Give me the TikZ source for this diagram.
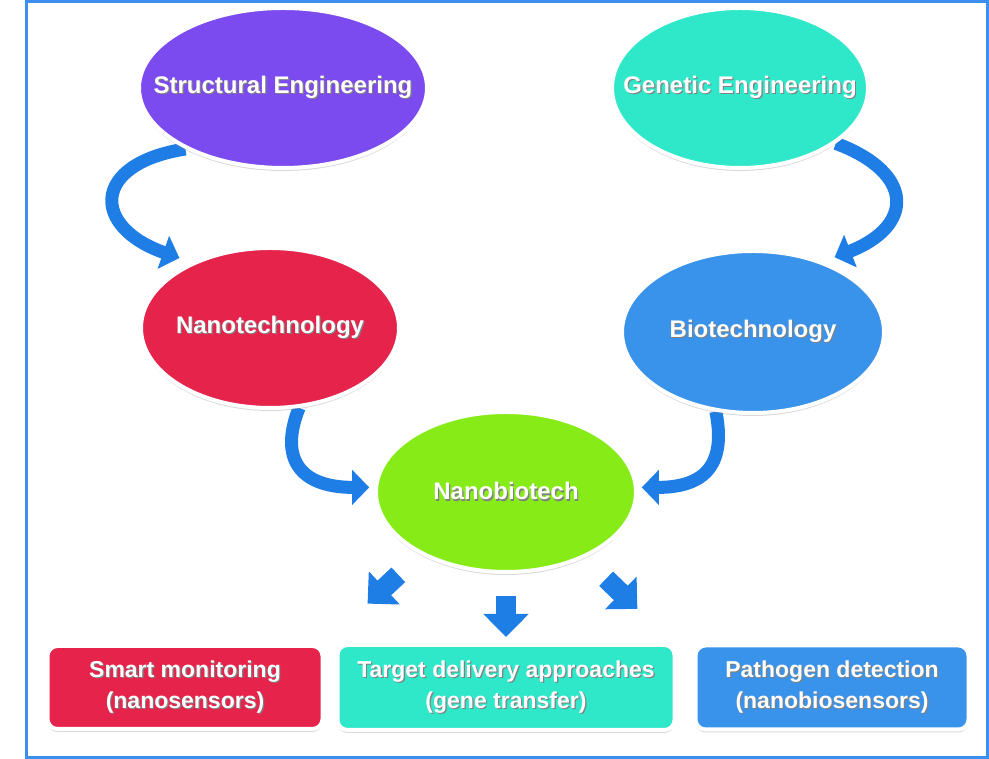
\documentclass[tikz,border=0pt]{standalone}
\usepackage{fontspec}
\setmainfont{Liberation Sans}
\usetikzlibrary{shapes.geometric, arrows.meta, positioning, shadows, backgrounds}

\definecolor{structcol}{HTML}{7B4BEF}
\definecolor{genecol}{HTML}{2EE8C9}
\definecolor{nanocol}{HTML}{E6244B}
\definecolor{biocol}{HTML}{3A93EA}
\definecolor{nbtcol}{HTML}{86EB17}
\definecolor{arrowcol}{HTML}{1E7EE6}
\definecolor{framecol}{HTML}{3D8FEF}

% white text with a dark drop behind it
\newcommand\shd[1]{\makebox[0pt]{\rlap{\raisebox{-1.5pt}{\hspace{1.2pt}\color{black!50}#1}}#1}}

\tikzset{
  blob/.style = {ellipse, draw=white, line width=4pt, text=white, inner sep=0pt,
                 minimum width=258pt, minimum height=160pt,
                 font=\fontsize{24}{29}\selectfont\bfseries,
                 drop shadow={shadow xshift=0pt, shadow yshift=-3pt, opacity=.3}},
  card/.style = {rectangle, rounded corners=10pt, draw=white, line width=4pt, text=white,
                 inner sep=0pt, minimum height=85pt, align=center,
                 font=\fontsize{23}{31}\selectfont\bfseries,
                 drop shadow={shadow xshift=0pt, shadow yshift=-3pt, opacity=.3}},
  ribbon/.style = {draw=arrowcol, line width=13pt, -{Triangle[width=34pt,length=17pt]}},
  block/.style  = {draw=arrowcol, line width=20pt, -{Triangle[width=44pt,length=23pt]}},
}

\begin{document}
\begin{tikzpicture} [x=1pt, y=1pt, on grid]
   \useasboundingbox (0,0) rectangle (989,759);
   \draw[framecol, line width=3pt] (26.5,1.5) rectangle (987.5,757.5);

   \node (struct)[blob, fill=structcol, minimum width=288pt] at (283,671) {\shd{Structural Engineering}};
   \node (gene)[blob, fill=genecol, minimum width=256pt, right = 457pt of struct] {\shd{Genetic Engineering}};
   \node (nano)[blob, fill=nanocol, below left = 240pt and 13pt of struct] {\shd{Nanotechnology}};
   \node (bio)[blob, fill=biocol, minimum width=262pt, minimum height=162pt,
               below right = 244pt and 13pt of gene] {\shd{Biotechnology}};
   \node (nbt)[blob, fill=nbtcol, minimum width=260pt, below right = 164pt and 236pt of nano] {\shd{Nanobiotech}};

   \node (target)[card, fill=genecol, minimum width=337pt, below = 195.5pt of nbt]
        {\shd{Target delivery approaches}\\ \shd{(gene transfer)}};
   \node (smart)[card, fill=nanocol, minimum width=275pt, minimum height=83pt, left = 321pt of target]
        {\shd{Smart monitoring}\\ \shd{(nanosensors)}};
   \node (patho)[card, fill=biocol, minimum width=273pt, minimum height=84pt, right = 326pt of target]
        {\shd{Pathogen detection}\\ \shd{(nanobiosensors)}};

   % curved ribbons tuck under the ellipses
   \begin{scope}[on background layer]
      \draw[ribbon, shorten >=13pt](struct.212) .. controls +(-95,-15) and +(-100,35) .. (nano.140);
      \draw[ribbon, shorten >=12pt](gene.330) .. controls +(80,-30) and +(90,35) .. (bio.45);
      \draw[ribbon, shorten >=5pt](nano.290) .. controls +(-20,-50) and +(-75,0) .. (nbt.178);
      \draw[ribbon, shorten >=4pt](bio.245) .. controls +(10,-50) and +(70,0) .. (nbt.2);
   \end{scope}

   \draw[block, shorten <=30pt, shorten >=59pt](nbt.216) -- (smart.north east);
   \draw[block, shorten <=22pt, shorten >=6pt](nbt.south) -- (target.north);
   \draw[block, shorten <=30pt, shorten >=78pt](nbt.320) -- (patho.170);
\end{tikzpicture}
\end{document}
